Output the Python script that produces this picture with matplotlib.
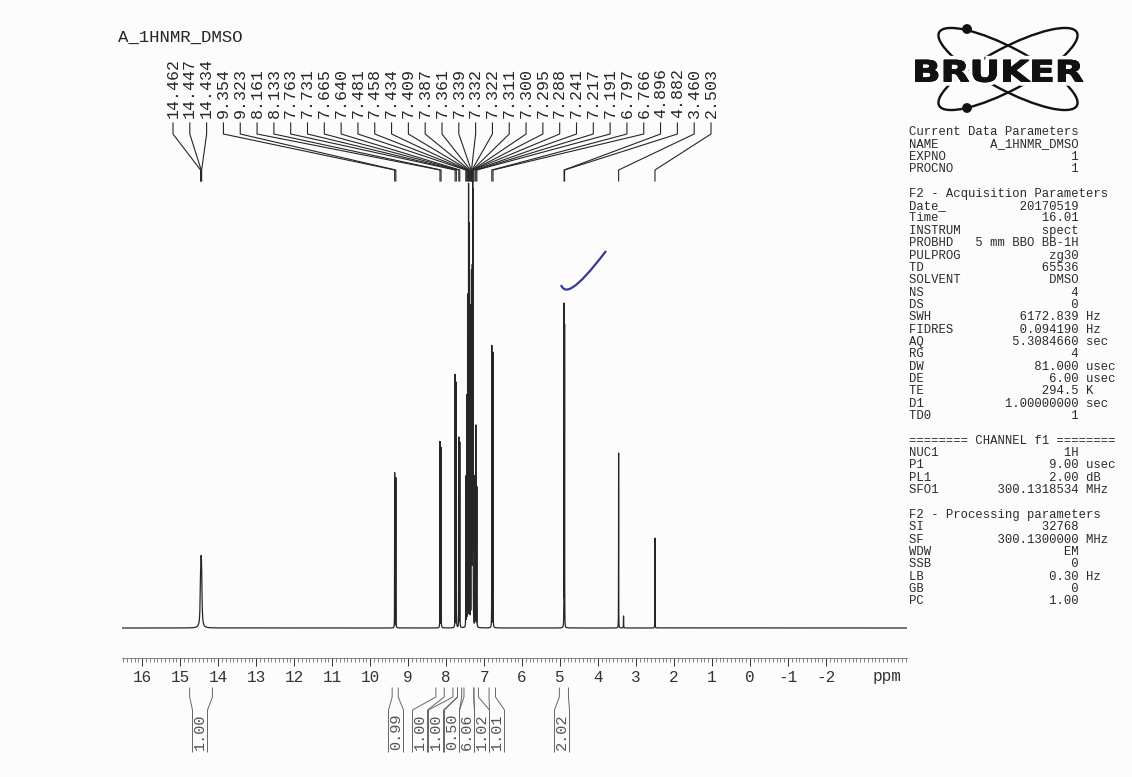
import numpy as np
import matplotlib
matplotlib.use("Agg")
import matplotlib.pyplot as plt
from matplotlib.ticker import MultipleLocator
from matplotlib.textpath import TextPath
from matplotlib.patches import PathPatch, Ellipse, Circle
from matplotlib.font_manager import FontProperties
from matplotlib.path import Path
import matplotlib.patheffects as pe

MONO = "Liberation Mono"

# ---- spectrum data -------------------------------------------------------
title = "A_1HNMR_DMSO"

peak_ppm = [14.462, 14.447, 14.434, 9.354, 9.323, 8.161, 8.133, 7.763, 7.731,
            7.665, 7.640, 7.481, 7.458, 7.434, 7.409, 7.387, 7.361, 7.339,
            7.332, 7.322, 7.311, 7.300, 7.295, 7.288, 7.241, 7.217, 7.191,
            6.797, 6.766, 4.896, 4.882, 3.460, 2.503]
peak_height = [37, 41, 37, 155, 150, 186, 180, 253, 245,
               190, 185, 150, 230, 330, 440, 400, 260, 300,
               330, 300, 340, 417, 380, 290, 150, 201, 140,
               282, 275, 321, 300, 175, 90]
peak_hwhm = [0.012, 0.012, 0.012] + [0.0016] * 30

# small unlabelled line (water satellite)
extra_ppm = [3.33]
extra_height = [12]
extra_hwhm = [0.003]

integral_from = [14.75, 9.42, 8.27, 7.82, 7.70, 7.53, 7.27, 6.87, 5.02]
integral_to = [14.15, 9.26, 8.05, 7.70, 7.59, 7.27, 7.15, 6.70, 4.78]
integral_text = ["1.00", "0.99", "1.00", "1.00", "0.50", "6.06", "1.02",
                 "1.01", "2.02"]

tick_values = list(range(16, -3, -1))
tick_labels = [str(v) for v in tick_values]

# ---- acquisition / processing parameters ---------------------------------
current_keys = ["NAME", "EXPNO", "PROCNO"]
current_vals = ["A_1HNMR_DMSO", "1", "1"]

acq_keys = ["Date_", "Time", "INSTRUM", "PROBHD", "PULPROG", "TD", "SOLVENT",
            "NS", "DS", "SWH", "FIDRES", "AQ", "RG", "DW", "DE", "TE", "D1",
            "TD0"]
acq_vals = ["20170519", "16.01", "spect", "5 mm BBO BB-1H", "zg30", "65536",
            "DMSO", "4", "0", "6172.839", "0.094190", "5.3084660", "4",
            "81.000", "6.00", "294.5", "1.00000000", "1"]
acq_units = ["", "", "", "", "", "", "", "", "", "Hz", "Hz", "sec", "",
             "usec", "usec", "K", "sec", ""]

chan_keys = ["NUC1", "P1", "PL1", "SFO1"]
chan_vals = ["1H", "9.00", "2.00", "300.1318534"]
chan_units = ["", "usec", "dB", "MHz"]

proc_keys = ["SI", "SF", "WDW", "SSB", "LB", "GB", "PC"]
proc_vals = ["32768", "300.1300000", "EM", "0", "0.30", "0", "1.00"]
proc_units = ["", "MHz", "", "", "Hz", "", ""]

# ---- figure --------------------------------------------------------------
W, H = 1132, 777
fig = plt.figure(figsize=(W / 100, H / 100), dpi=100)
fig.patch.set_facecolor("#fcfcfc")

# pixel-space overlay for annotations
ov = fig.add_axes([0, 0, 1, 1], zorder=5)
ov.set_xlim(0, W)
ov.set_ylim(H, 0)
ov.axis("off")
ov.patch.set_alpha(0)

ink = "#262626"

ppm_left, ppm_right = 16.53, -4.13
x0_px, w_px = 122, 785

sp = fig.add_axes([x0_px / W, 1 - 640 / H, w_px / W, 460 / H])
sp.set_xlim(ppm_left, ppm_right)
sp.set_ylim(-12, 448)
sp.axis("off")
sp.patch.set_alpha(0)

all_ppm = np.array(peak_ppm + extra_ppm)
all_h = np.array(peak_height + extra_height, dtype=float)
all_w = np.array(peak_hwhm + extra_hwhm)
grid = np.union1d(np.arange(ppm_right, ppm_left, 0.0004), all_ppm)
spec = np.zeros_like(grid)
for p, h, w in zip(all_ppm, all_h, all_w):
    spec += h * w ** 2 / ((grid - p) ** 2 + w ** 2)
sp.plot(grid, spec, color=ink, lw=0.9)


def ppm_px(ppm):
    return sp.transData.transform((ppm, 0))[0]


# ---- ppm scale -----------------------------------------------------------
ta = fig.add_axes([x0_px / W, 1 - 658 / H, w_px / W, 0.5 / H])
ta.set_xlim(ppm_left, ppm_right)
ta.patch.set_alpha(0)
for s in ["left", "right", "top"]:
    ta.spines[s].set_visible(False)
ta.spines["bottom"].set_linewidth(0.5)
ta.spines["bottom"].set_color("#555555")
ta.set_yticks([])
ta.set_xticks(tick_values)
ta.set_xticklabels(tick_labels)
ta.xaxis.set_minor_locator(MultipleLocator(0.1))
ta.tick_params(which="major", length=6, width=0.7, pad=3, labelsize=11.5,
               colors="#333333")
ta.tick_params(which="minor", length=3, width=0.5, colors="#555555")
for lab in ta.get_xticklabels():
    lab.set_family(MONO)
ov.text(ppm_px(-3.6), 677, "ppm", ha="center", va="center", family=MONO,
        fontsize=11.5, color="#333333")

# ---- header ----------------------------------------------------------------
ov.text(118, 37, title, ha="left", va="center", family=MONO, fontsize=12.5,
        color=ink)

# ---- peak labels with leaders ---------------------------------------------
n = len(peak_ppm)
label_x = np.linspace(173, 711, n)
for lx, p in zip(label_x, peak_ppm):
    ov.text(lx, 118, f"{p:.3f}", rotation=90, ha="center", va="bottom",
            family=MONO, fontsize=12, color=ink)
    px = ppm_px(p)
    ov.plot([lx, lx, px, px], [123, 134, 170, 181], color=ink, lw=0.8)

# ---- integrals -------------------------------------------------------------
int_text_x = [200, 396, 420, 436, 452, 467, 482, 497, 562]
hw = 7.5
for a, b, t, tx in zip(integral_from, integral_to, integral_text, int_text_x):
    xa, xb = ppm_px(a), ppm_px(b)
    ov.plot([xa, xa, tx - hw, tx - hw], [688, 697, 710, 752], color="#666666",
            lw=0.7)
    ov.plot([xb, xb, tx + hw, tx + hw], [688, 697, 710, 752], color="#666666",
            lw=0.7)
    ov.text(tx, 750, t, rotation=90, ha="center", va="bottom", family=MONO,
            fontsize=11, color="#555555")

# ---- parameter block -------------------------------------------------------
def row(key, val, unit=""):
    s = key + val.rjust(23 - len(key))
    if unit:
        s += " " + unit
    return s


lines = ["Current Data Parameters"]
lines += [row(k, v) for k, v in zip(current_keys, current_vals)]
lines += ["", "F2 - Acquisition Parameters"]
lines += [row(k, v, u) for k, v, u in zip(acq_keys, acq_vals, acq_units)]
lines += ["", "======== CHANNEL f1 ========"]
lines += [row(k, v, u) for k, v, u in zip(chan_keys, chan_vals, chan_units)]
lines += ["", "F2 - Processing parameters"]
lines += [row(k, v, u) for k, v, u in zip(proc_keys, proc_vals, proc_units)]
for i, s in enumerate(lines):
    if s:
        ov.text(909, 132 + 12.35 * i, s, ha="left", va="center", family=MONO,
                fontsize=8.8, color="#2a2a2a")

# ---- logo ------------------------------------------------------------------
cx, cy = 1008, 69
for ang in (28, -28):
    ov.add_patch(Ellipse((cx, cy), 156, 42, angle=ang, fill=False,
                         ec="#111111", lw=1.7, zorder=6))
for ey in (29, 108):
    ov.add_patch(Circle((967, ey), 4.2, color="#111111", zorder=6))
tp = TextPath((0, 0), "BRUKER", size=10,
              prop=FontProperties(family="DejaVu Sans", weight="bold"))
v = tp.vertices.copy()
bx0, by0 = v.min(axis=0)
bx1, by1 = v.max(axis=0)
v[:, 0] = 912 + (v[:, 0] - bx0) / (bx1 - bx0) * 171
v[:, 1] = 82 - (v[:, 1] - by0) / (by1 - by0) * 22
logo = PathPatch(Path(v, tp.codes), fc="#111111", ec="#111111", lw=0.6,
                 zorder=7)
logo.set_path_effects([pe.withStroke(linewidth=6, foreground="#fcfcfc"),
                       pe.Normal()])
ov.add_patch(logo)

# ---- pen tick ------------------------------------------------------------
tick_path = Path([(561, 285), (565, 294), (574, 293), (606, 251)],
                 [Path.MOVETO, Path.CURVE4, Path.CURVE4, Path.CURVE4])
ov.add_patch(PathPatch(tick_path, fill=False, ec="#34399a", lw=1.6,
                       zorder=6))

fig.savefig("out.png", dpi=100, facecolor=fig.get_facecolor())
